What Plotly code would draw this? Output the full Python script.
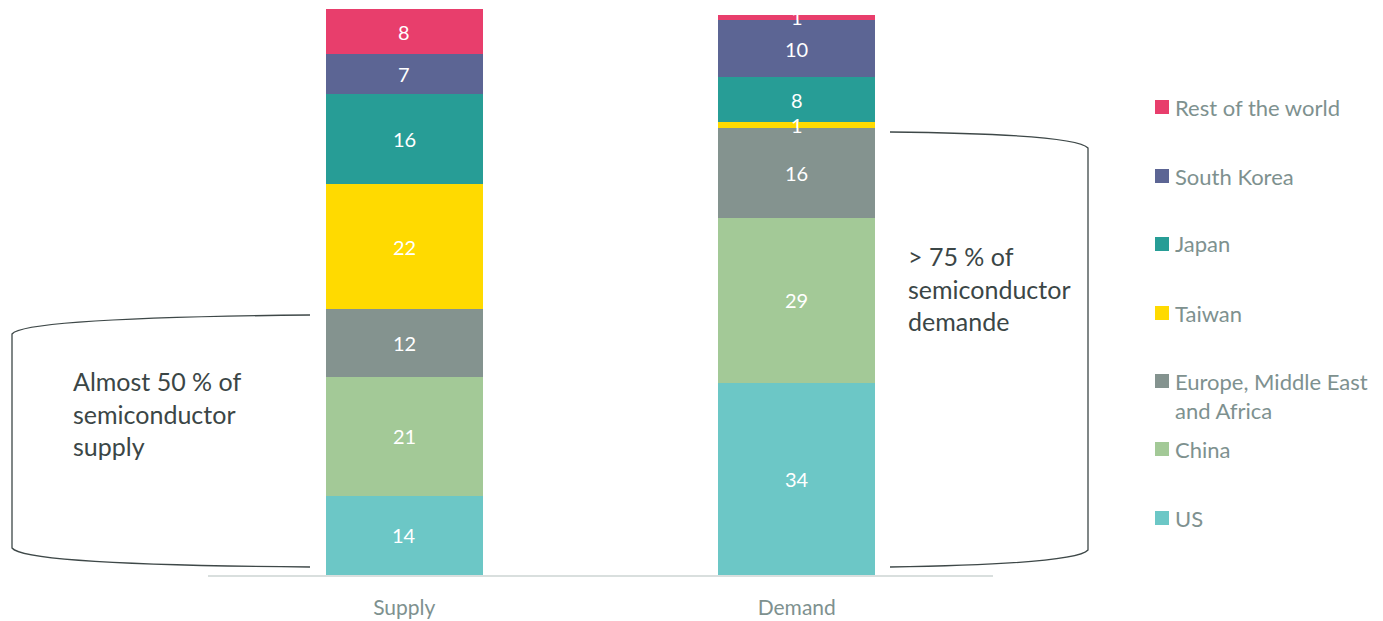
import plotly.graph_objects as go

categories = ["Supply", "Demand"]
regions = ["US", "China", "Europe, Middle East and Africa", "Taiwan", "Japan", "South Korea", "Rest of the world"]
legend_labels = ["US", "China", "Europe, Middle East<br>and Africa", "Taiwan", "Japan", "South Korea", "Rest of the world"]
supply = [14, 21, 12, 22, 16, 7, 8]
demand = [34, 29, 16, 1, 8, 10, 1]
colors = ["#6CC7C6", "#A3C997", "#84938F", "#FFDA00", "#279D96", "#5C6594", "#E83E6C"]

W, H = 1383, 621
L, R, T, B = 208, 993, 9, 575

def px(x):
    return (x - L) / (R - L)

def py(y):
    return (B - y) / (B - T)

FONT = "Lato"
fig = go.Figure()
for i, reg in enumerate(regions):
    fig.add_trace(go.Bar(
        x=categories, y=[supply[i], demand[i]], name=reg,
        marker=dict(color=colors[i], line=dict(width=0)),
        showlegend=False, hoverinfo="skip"))

annotations = []
for vals, cat in ((supply, "Supply"), (demand, "Demand")):
    cum = 0
    for v in vals:
        annotations.append(dict(x=cat, y=cum + v / 2, text=str(v), showarrow=False,
                                xref="x", yref="y",
                                font=dict(family=FONT, size=20, color="white")))
        cum += v

shapes = []
leg_y = [518, 449, 381, 313, 244, 176, 107]
for i in range(len(regions)):
    yc = leg_y[i]
    shapes.append(dict(type="rect", xref="paper", yref="paper",
                       x0=px(1155), x1=px(1169), y0=py(yc + 7), y1=py(yc - 7),
                       fillcolor=colors[i], line=dict(width=0)))
    yy = yc + 14.5 if i == 2 else yc
    annotations.append(dict(x=px(1173), y=py(yy), xref="paper", yref="paper",
                            text=legend_labels[i], showarrow=False, xanchor="left",
                            yanchor="middle", align="left",
                            font=dict(family=FONT, size=22, color="#7E918F")))

left = (f"M {px(310)},{py(315)} Q {px(25)},{py(318)} {px(12)},{py(334)} "
        f"L {px(12)},{py(548)} Q {px(25)},{py(565)} {px(310)},{py(567)}")
right = (f"M {px(890)},{py(132)} Q {px(1076)},{py(134)} {px(1088)},{py(148)} "
         f"L {px(1088)},{py(550)} Q {px(1076)},{py(564)} {px(890)},{py(567)}")
for p in (left, right):
    shapes.append(dict(type="path", xref="paper", yref="paper", path=p,
                       line=dict(color="#3E4848", width=1.3)))

annotations.append(dict(x=px(71), y=py(413), xref="paper", yref="paper",
                        text="Almost 50 % of<br>semiconductor<br>supply", showarrow=False,
                        xanchor="left", yanchor="middle", align="left",
                        font=dict(family=FONT, size=25, color="#3B4646")))
annotations.append(dict(x=px(906), y=py(288), xref="paper", yref="paper",
                        text="&gt; 75 % of<br>semiconductor<br>demande", showarrow=False,
                        xanchor="left", yanchor="middle", align="left",
                        font=dict(family=FONT, size=25, color="#3B4646")))

fig.update_layout(
    barmode="stack", bargap=0.6,
    width=W, height=H,
    margin=dict(l=L, r=W - R, t=T, b=H - B, autoexpand=False),
    plot_bgcolor="white", paper_bgcolor="white",
    xaxis=dict(range=[-0.5, 1.5], showline=True, linecolor="#D9DFDE", linewidth=2,
               ticks="", ticklabelstandoff=13,
               tickfont=dict(family=FONT, size=21, color="#7E918F"),
               showgrid=False, zeroline=False, fixedrange=True),
    yaxis=dict(range=[0, 100], visible=False, showgrid=False, zeroline=False, fixedrange=True),
    shapes=shapes, annotations=annotations,
)
fig.write_html("out.html", config={"displayModeBar": False, "staticPlot": True},
               post_script="document.body.style.margin='0';document.body.style.overflow='hidden';")
